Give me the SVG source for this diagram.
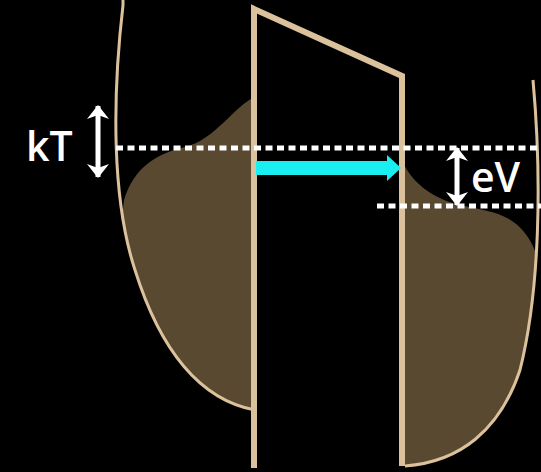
<svg xmlns="http://www.w3.org/2000/svg" width="541" height="472" viewBox="0 0 541 472">
<defs>
<style>
.well{fill:none;stroke:#dcc29c;stroke-width:3}
.barrier{fill:none;stroke:#dcc29c;stroke-width:6;stroke-linejoin:miter}
.fill{fill:#5a4931}
.dots{stroke:#ffffff;stroke-width:5;stroke-dasharray:7 4.5;fill:none}
.lbl{font-family:"Open Sans","Liberation Sans",sans-serif;font-size:41px;font-weight:600;fill:#ffffff}
.dbl{stroke:#ffffff;stroke-width:5;fill:none}
</style>
<clipPath id="leftWell"><path d="M123,0 L123,5 C112,100 112,200 135,270 C160,350 200,400 255,410 L255,0 Z"/></clipPath>
<clipPath id="rightWell"><path d="M402,70 L533,70 L533,80 C542,180 540,290 520,370 C500,430 460,462 405,467 Z"/></clipPath>
<marker id="wh" viewBox="0 0 14 22" refX="13" refY="11" markerWidth="14" markerHeight="22" orient="auto-start-reverse" markerUnits="userSpaceOnUse"><path d="M0,0 L14,11 L0,22 L4,11 Z" fill="#ffffff"/></marker>
</defs>
<rect width="541" height="472" fill="#000000"/>
<g id="left-fill"><path class="fill" clip-path="url(#leftWell)" d="M255,97 C235,105 215,140 185,147 C155,154 134,168 124,200 L100,420 L258,420 Z"/></g>
<g id="right-fill"><path class="fill" clip-path="url(#rightWell)" d="M402,160 C410,180 430,198 460,205 C495,213 525,212 540,265 L545,480 L402,480 Z"/></g>
<g id="left-well"><path class="well" d="M123,0 L123,5 C112,100 112,200 135,270 C160,350 200,400 255,410"/></g>
<g id="right-well"><path class="well" d="M533,80 C542,180 540,290 520,370 C500,430 460,462 405,466"/></g>
<g id="barrier"><path class="barrier" d="M254,468 L254,9 L402,76 L402,466"/></g>
<g id="levels">
<line class="dots" x1="116" y1="148" x2="541" y2="148"/>
<line class="dots" x1="377" y1="206" x2="541" y2="206"/>
</g>
<g id="connectors">
<path d="M256,161 L387,161 L387,155 L401,168 L387,181 L387,175 L256,175 Z" fill="#19eef0"/>
<line class="dbl" x1="98" y1="106" x2="98" y2="177" marker-start="url(#wh)" marker-end="url(#wh)"/>
<line class="dbl" x1="457" y1="148" x2="457" y2="205" marker-start="url(#wh)" marker-end="url(#wh)"/>
</g>
<g id="kT"><text class="lbl" x="26" y="161">kT</text></g>
<g id="eV"><text class="lbl" x="471" y="192">eV</text></g>
</svg>
